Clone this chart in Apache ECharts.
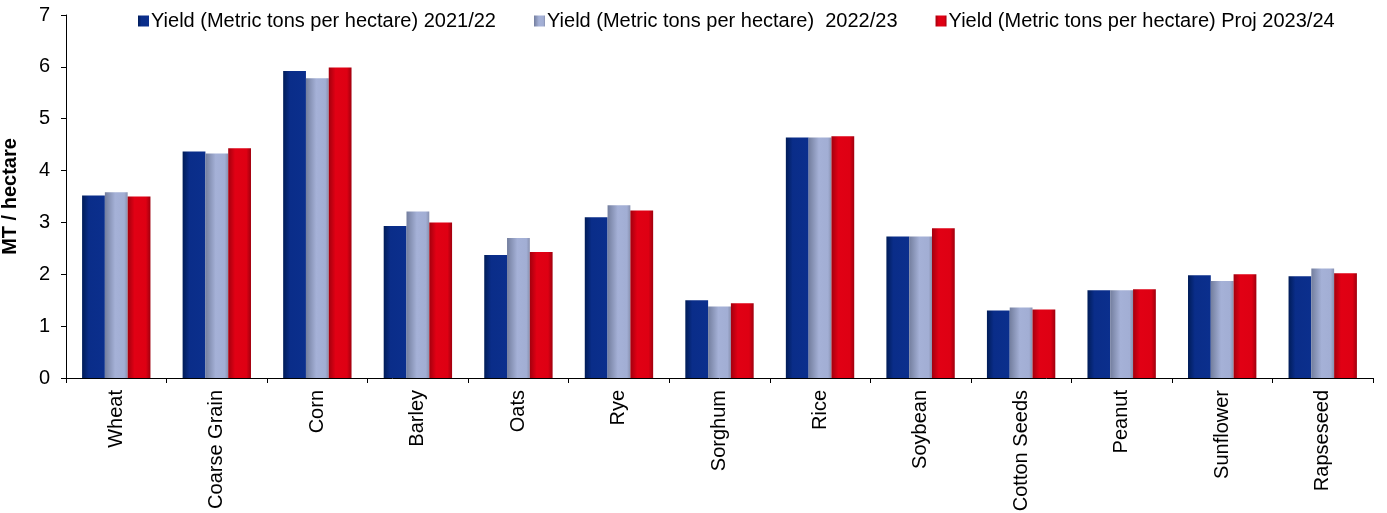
<!DOCTYPE html>
<html>
<head>
<meta charset="utf-8">
<script src="https://cdn.jsdelivr.net/npm/echarts@6/dist/echarts.min.js"></script>
<style>
  html, body { margin: 0; padding: 0; background: #fff; }
  #chart { width: 1387px; height: 513px; }
</style>
</head>
<body>
<div id="chart"></div>
<script>
// Crop yields, metric tons per hectare
const categories = ['Wheat', 'Coarse Grain', 'Corn', 'Barley', 'Oats', 'Rye', 'Sorghum',
  'Rice', 'Soybean', 'Cotton Seeds', 'Peanut', 'Sunflower', 'Rapseseed'];
const seriesNames = [
  'Yield (Metric tons per hectare) 2021/22',
  'Yield (Metric tons per hectare)  2022/23',
  'Yield (Metric tons per hectare) Proj 2023/24'
];
const yield2122 = [3.52, 4.37, 5.92, 2.93, 2.37, 3.10, 1.50, 4.64, 2.73, 1.30, 1.69, 1.98, 1.96];
const yield2223 = [3.58, 4.33, 5.78, 3.21, 2.70, 3.33, 1.38, 4.64, 2.73, 1.36, 1.69, 1.87, 2.11];
const yield2324 = [3.50, 4.43, 5.99, 3.00, 2.43, 3.23, 1.44, 4.66, 2.89, 1.32, 1.71, 2.00, 2.02];
const yTicks = [0, 1, 2, 3, 4, 5, 6, 7];

const FONT = '"Liberation Sans", Arial, sans-serif';
const FS = 20;

function shade(stops) {
  return new echarts.graphic.LinearGradient(0, 0, 1, 0,
    stops.map(([o, c]) => ({ offset: o, color: c })));
}
const blueFill = shade([[0, '#001c58'], [0.3, '#0a2d89'], [1, '#0b2f8d']]);
const greyFill = shade([[0, '#737e9e'], [0.45, '#a5b1d7'], [0.85, '#a2aed4'], [1, '#8891b0']]);
const redFill = shade([[0, '#a3000e'], [0.3, '#e10014'], [0.8, '#de0013'], [1, '#a0000e']]);

const chart = echarts.init(document.getElementById('chart'), null, { renderer: 'canvas' });

function bar(name, data, fill) {
  return {
    name: name,
    type: 'bar',
    data: data,
    barGap: '0%',
    barCategoryGap: '32%',
    itemStyle: { color: fill },
    emphasis: { disabled: true }
  };
}

chart.setOption({
  animation: false,
  backgroundColor: '#ffffff',
  textStyle: { fontFamily: FONT },
  legend: {
    left: 138,
    top: 11,
    padding: 0,
    itemWidth: 11,
    itemHeight: 11,
    itemGap: 38,
    icon: 'rect',
    textStyle: { fontFamily: FONT, fontSize: FS, color: '#000', padding: [0, 0, 0, -3] },
    data: seriesNames
  },
  grid: {
    left: 66, right: 14, top: 15, bottom: 135,
    containLabel: false,
    outerBoundsMode: 'none'
  },
  xAxis: {
    type: 'category',
    data: categories,
    axisLine: { lineStyle: { color: '#000', width: 1 } },
    axisTick: { show: true, alignWithLabel: false, length: 5, lineStyle: { color: '#000' } },
    axisLabel: {
      rotate: 90,
      interval: 0,
      margin: 12,
      fontFamily: FONT,
      fontSize: FS,
      color: '#000'
    },
    splitLine: { show: false }
  },
  yAxis: {
    type: 'value',
    min: yTicks[0],
    max: yTicks[yTicks.length - 1],
    interval: 1,
    name: 'MT / hectare',
    nameLocation: 'middle',
    nameGap: 46,
    nameRotate: 90,
    nameTextStyle: { fontFamily: FONT, fontSize: FS, fontWeight: 'bold', color: '#000' },
    axisLine: { show: true, lineStyle: { color: '#000', width: 1 } },
    axisTick: { show: true, length: 5, lineStyle: { color: '#000' } },
    axisLabel: { fontFamily: FONT, fontSize: FS, color: '#000', margin: 16 },
    splitLine: { show: false }
  },
  series: [
    bar(seriesNames[0], yield2122, blueFill),
    bar(seriesNames[1], yield2223, greyFill),
    bar(seriesNames[2], yield2324, redFill)
  ]
});
</script>
</body>
</html>
